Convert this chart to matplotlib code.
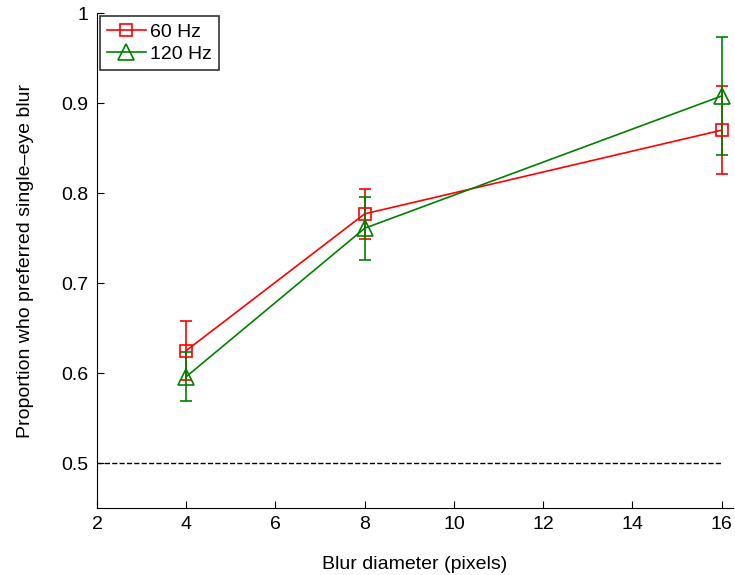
import matplotlib.pyplot as plt
from matplotlib.lines import Line2D

plt.rcParams['font.family'] = ['Liberation Sans', 'DejaVu Sans']

blur = [4, 8, 16]
hz60 = [0.625, 0.777, 0.870]
hz60_err = [0.033, 0.028, 0.049]
hz120 = [0.596, 0.761, 0.908]
hz120_err = [0.027, 0.035, 0.066]
chance = 0.5

fig = plt.figure(figsize=(7.35, 5.75), dpi=100)
ax = fig.add_axes([0.132, 0.1165, 0.865, 0.8605])

ax.plot([2, 16], [chance, chance], 'k--', lw=1)
ax.errorbar(blur, hz60, yerr=hz60_err, color='#ff0000', marker='s', ms=9,
            mfc='none', mew=1.2, lw=1.2, capsize=4)
ax.errorbar(blur, hz120, yerr=hz120_err, color='#008000', marker='^', ms=11,
            mfc='none', mew=1.2, lw=1.2, capsize=4)

ax.set_xlim(2, 16.25)
ax.set_ylim(0.45, 1.0)
ax.set_xticks(range(2, 17, 2))
ax.set_yticks([0.5, 0.6, 0.7, 0.8, 0.9, 1.0])
ax.set_yticklabels(['0.5', '0.6', '0.7', '0.8', '0.9', '1'])
ax.tick_params(direction='in', labelsize=14, length=5, pad=6)
ax.spines['top'].set_visible(False)
ax.spines['right'].set_visible(False)
ax.set_xlabel('Blur diameter (pixels)', fontsize=14, labelpad=16)
ax.set_ylabel('Proportion who preferred single\u2013eye blur', fontsize=14, labelpad=20)

handles = [
    Line2D([], [], color='#ff0000', marker='s', ms=9, mfc='none', mew=1.2, lw=1.2),
    Line2D([], [], color='#008000', marker='^', ms=11, mfc='none', mew=1.2, lw=1.2),
]
leg = ax.legend(handles, ['60 Hz', '120 Hz'], loc='upper left', fontsize=14,
                frameon=True, fancybox=False, edgecolor='k', handlelength=2.0,
                borderpad=0.35, labelspacing=0.25, handletextpad=0.25,
                borderaxespad=0.15)
leg.get_frame().set_linewidth(1.2)

fig.savefig('out.png', dpi=100)
